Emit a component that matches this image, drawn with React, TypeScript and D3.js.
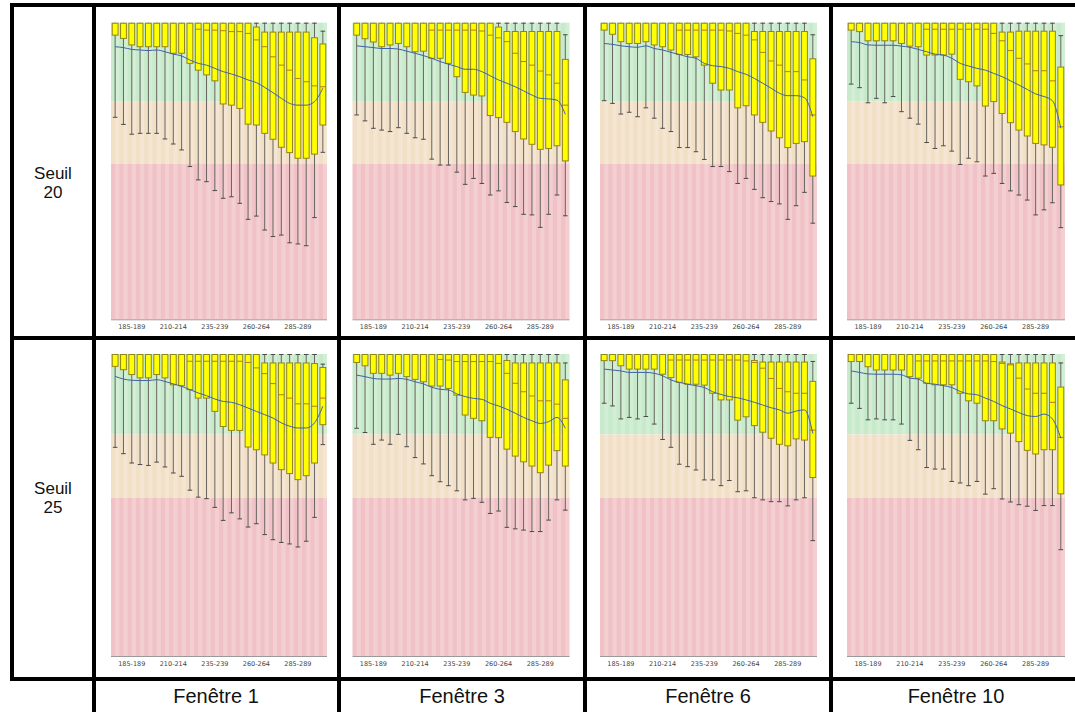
import * as d3 from 'd3';
import { useEffect, useRef } from 'react';

const categories = [
  '175-179', '180-184', '185-189', '190-194', '195-199', '200-204', '205-209',
  '210-214', '215-219', '220-224', '225-229', '230-234', '235-239', '240-244',
  '245-249', '250-254', '255-259', '260-264', '265-269', '270-274', '275-279',
  '280-284', '285-289', '290-294', '295-299', '300-304',
];
const tickLabels = ['185-189', '210-214', '235-239', '260-264', '285-289'];
const rowLabels = [['Seuil', '20'], ['Seuil', '25']];
const colLabels = ['Fenêtre 1', 'Fenêtre 3', 'Fenêtre 6', 'Fenêtre 10'];
// green above the first limit, beige between, red below
const zoneLimits = [73.4, 52.4];

// Seuil 20 / Fenêtre 1
const s20f1Q1 = [95.8, 94.7, 92.5, 91.9, 91.9, 91.9, 91.9, 89.7, 89.7, 86.3, 84.0, 82.4, 80.4, 72.6, 72.2, 71.1, 65.8, 65.5, 62.7, 60.7, 58.0, 56.2, 54.3, 54.3, 55.7, 65.5];
const s20f1Q3 = [100, 100, 100, 100, 100, 100, 100, 100, 100, 100, 100, 100, 100, 100, 100, 100, 100, 98.7, 97.0, 97.0, 97.0, 97.0, 97.0, 97.0, 95.1, 93.0];
const s20f1Med = [100, 100, 100, 100, 100, 100, 100, 100, 100, 100, 97.8, 97.5, 97.5, 97.3, 97.0, 97.0, 96.4, 94.2, 91.9, 88.5, 85.7, 84.0, 81.2, 80.1, 78.7, 78.4];
const s20f1Min = [68.1, 65.7, 62.4, 62.7, 62.7, 62.7, 60.8, 59.1, 57.1, 51.5, 47.0, 46.4, 43.4, 40.8, 41.3, 39.1, 33.7, 34.8, 30.1, 27.9, 28.4, 25.8, 25.4, 24.8, 34.3, 56.3];
const s20f1Max = [100, 100, 100, 100, 100, 100, 100, 100, 100, 100, 100, 100, 100, 100, 100, 100, 100, 100, 100, 100, 100, 100, 100, 100, 100, 97.3];
const s20f1Mean = [91.9, 91.6, 91.0, 90.8, 90.6, 90.8, 90.2, 89.4, 88.8, 87.4, 86.3, 85.7, 84.6, 83.5, 82.7, 81.8, 80.7, 79.8, 78.2, 76.4, 74.5, 72.8, 72.2, 72.2, 73.4, 77.9];

// Seuil 20 / Fenêtre 3
const s20f3Q1 = [95.8, 94.6, 93.5, 91.9, 92.5, 93.0, 91.9, 90.2, 90.4, 88.0, 88.0, 86.3, 81.8, 76.5, 75.6, 75.3, 68.7, 68.0, 66.4, 63.3, 60.8, 59.0, 57.3, 57.6, 58.5, 53.4];
const s20f3Q3 = [100, 100, 100, 100, 100, 100, 100, 100, 100, 100, 100, 100, 100, 100, 100, 100, 100, 98.7, 97.2, 97.2, 97.2, 97.2, 97.2, 97.2, 97.2, 87.8];
const s20f3Med = [100, 100, 100, 100, 100, 100, 100, 100, 100, 97.5, 97.5, 97.5, 97.5, 97.5, 97.5, 97.2, 95.8, 94.9, 93.6, 89.7, 86.9, 85.7, 83.7, 82.4, 79.6, 72.2];
const s20f3Min = [68.9, 66.9, 64.4, 63.8, 63.3, 64.6, 62.7, 61.2, 60.7, 54.0, 52.0, 52.0, 49.6, 45.5, 47.5, 45.8, 41.9, 43.3, 39.4, 38.0, 35.4, 35.2, 31.0, 35.4, 41.9, 34.9];
const s20f3Max = [100, 100, 100, 100, 100, 100, 100, 100, 100, 100, 100, 100, 100, 100, 100, 100, 100, 100, 100, 100, 100, 100, 100, 100, 100, 96.1];
const s20f3Mean = [92.2, 91.9, 91.6, 91.3, 91.3, 91.1, 90.4, 89.7, 88.9, 88.0, 86.9, 86.0, 85.2, 84.3, 84.3, 83.5, 82.1, 80.7, 79.6, 78.4, 77.0, 75.6, 74.5, 74.3, 73.9, 69.1];

// Seuil 20 / Fenêtre 6
const s20f6Q1 = [97.5, 96.1, 93.6, 93.0, 93.0, 93.6, 92.5, 91.9, 90.8, 89.3, 89.3, 88.5, 85.7, 79.6, 77.3, 77.3, 71.3, 72.0, 68.9, 66.4, 63.5, 61.2, 57.9, 59.3, 59.9, 48.3];
const s20f6Q3 = [100, 100, 100, 100, 100, 100, 100, 100, 100, 100, 100, 100, 100, 100, 100, 100, 100, 100, 97.2, 97.2, 97.2, 97.2, 97.2, 97.2, 97.2, 88.0];
const s20f6Med = [100, 100, 100, 100, 100, 100, 100, 100, 100, 97.5, 97.5, 97.5, 97.5, 97.5, 97.5, 97.2, 96.4, 95.8, 94.2, 90.0, 87.1, 85.7, 83.5, 83.5, 80.7, 68.9];
const s20f6Min = [73.7, 72.8, 69.2, 69.8, 68.3, 71.3, 67.8, 64.4, 63.3, 57.9, 57.9, 56.5, 53.9, 51.5, 51.5, 49.8, 45.8, 47.5, 43.8, 41.0, 39.7, 38.9, 33.7, 38.3, 42.8, 32.4];
const s20f6Max = [100, 100, 100, 100, 100, 100, 100, 100, 100, 100, 100, 100, 100, 100, 100, 100, 100, 100, 100, 100, 100, 100, 100, 100, 100, 96.1];
const s20f6Mean = [93.0, 92.7, 92.2, 91.9, 91.7, 92.2, 91.3, 90.8, 90.0, 89.3, 88.5, 88.0, 86.3, 85.5, 85.2, 84.6, 83.5, 82.6, 81.2, 79.6, 77.9, 76.2, 75.4, 75.4, 74.7, 68.3];

// Seuil 20 / Fenêtre 10
const s20f10Q1 = [97.5, 97.0, 93.9, 93.9, 93.9, 93.9, 93.0, 92.1, 91.9, 89.1, 89.1, 89.1, 89.4, 80.9, 80.1, 78.7, 71.9, 73.4, 69.4, 66.3, 63.8, 61.8, 59.3, 58.8, 58.0, 45.3];
const s20f10Q3 = [100, 100, 100, 100, 100, 100, 100, 100, 100, 100, 100, 100, 100, 100, 100, 100, 100, 100, 97.0, 97.0, 97.3, 97.3, 97.3, 97.3, 97.3, 85.2];
const s20f10Med = [100, 100, 100, 100, 100, 100, 100, 100, 100, 97.8, 97.8, 97.8, 97.8, 97.8, 97.8, 97.8, 97.8, 96.4, 93.9, 90.6, 88.0, 86.1, 83.8, 83.8, 80.4, 64.9];
const s20f10Min = [79.3, 78.1, 73.0, 74.5, 73.0, 75.1, 70.0, 67.8, 65.8, 59.6, 57.6, 58.5, 56.7, 52.2, 54.3, 53.1, 48.3, 49.2, 45.8, 43.3, 41.9, 40.2, 35.2, 36.9, 39.3, 30.9];
const s20f10Max = [100, 100, 100, 100, 100, 100, 100, 100, 100, 100, 100, 100, 100, 100, 100, 100, 100, 100, 100, 100, 100, 100, 100, 100, 100, 95.8];
const s20f10Mean = [93.6, 93.3, 92.5, 92.4, 92.4, 92.4, 92.1, 91.7, 91.0, 90.2, 89.4, 89.1, 88.0, 86.3, 85.4, 84.6, 84.0, 82.9, 81.8, 80.4, 79.0, 77.5, 76.0, 75.1, 73.7, 64.4];

// Seuil 25 / Fenêtre 1
const s25f1Q1 = [95.9, 94.8, 93.2, 92.1, 92.1, 93.2, 92.1, 89.8, 89.5, 88.2, 85.4, 85.4, 81.0, 76.0, 74.7, 74.7, 69.2, 68.3, 66.6, 63.9, 61.7, 60.4, 58.4, 59.7, 63.9, 76.6];
const s25f1Q3 = [100, 100, 100, 100, 100, 100, 100, 100, 100, 100, 100, 100, 100, 100, 100, 100, 100, 100, 97.2, 97.2, 97.2, 97.2, 97.2, 97.2, 97.0, 95.7];
const s25f1Med = [100, 100, 100, 100, 100, 100, 100, 100, 100, 97.6, 97.6, 97.6, 97.6, 97.6, 97.6, 97.6, 97.2, 95.4, 93.5, 90.2, 86.5, 85.4, 83.5, 83.5, 82.7, 85.4];
const s25f1Min = [69.1, 67.0, 63.9, 63.4, 63.1, 64.2, 62.6, 60.6, 59.5, 54.9, 52.6, 52.1, 49.2, 44.9, 47.4, 45.4, 42.7, 43.8, 40.2, 38.5, 37.6, 37.1, 36.1, 38.0, 45.9, 70.0];
const s25f1Max = [100, 100, 100, 100, 100, 100, 100, 100, 100, 100, 100, 100, 100, 100, 100, 100, 100, 100, 100, 100, 100, 100, 100, 100, 100, 96.8];
const s25f1Mean = [92.6, 91.7, 91.3, 91.2, 91.2, 91.5, 90.9, 90.1, 89.3, 88.2, 87.1, 86.2, 85.1, 84.3, 84.0, 83.2, 82.1, 81.0, 79.9, 78.8, 77.2, 76.1, 75.5, 75.5, 77.2, 82.7];

// Seuil 25 / Fenêtre 3
const s25f3Q1 = [97.2, 96.1, 93.6, 93.6, 93.0, 93.6, 92.5, 91.6, 90.8, 89.4, 89.4, 88.6, 86.4, 79.8, 78.7, 77.9, 72.4, 72.3, 68.5, 66.2, 64.3, 62.9, 60.7, 63.2, 68.0, 62.9];
const s25f3Q3 = [100, 100, 100, 100, 100, 100, 100, 100, 100, 100, 100, 100, 100, 100, 100, 100, 100, 100, 98.0, 97.2, 97.2, 97.2, 97.2, 97.2, 97.2, 91.6];
const s25f3Med = [100, 100, 100, 100, 100, 100, 100, 100, 100, 100, 98.2, 98.0, 97.5, 97.5, 97.5, 97.5, 97.5, 96.9, 93.6, 90.3, 87.5, 86.1, 84.5, 84.5, 83.4, 78.7];
const s25f3Min = [75.4, 74.0, 70.1, 71.5, 70.1, 73.4, 69.3, 65.7, 63.6, 59.7, 57.7, 56.4, 54.7, 51.7, 52.2, 50.9, 47.2, 48.0, 42.6, 42.1, 41.7, 41.2, 41.2, 45.0, 51.7, 48.3];
const s25f3Max = [100, 100, 100, 100, 100, 100, 100, 100, 100, 100, 100, 100, 100, 100, 100, 100, 100, 100, 100, 100, 100, 100, 100, 100, 100, 97.2];
const s25f3Mean = [93.0, 92.5, 91.9, 91.7, 91.7, 91.9, 91.6, 90.8, 90.1, 89.0, 88.3, 88.1, 86.8, 85.9, 85.3, 85.0, 83.7, 82.8, 81.7, 80.4, 79.0, 77.9, 77.0, 77.6, 79.0, 75.4];

// Seuil 25 / Fenêtre 6
const s25f6Q1 = [97.8, 97.8, 96.1, 95.0, 95.0, 95.0, 95.0, 93.3, 92.2, 90.6, 90.0, 90.0, 89.7, 87.0, 84.8, 84.8, 78.1, 79.2, 76.3, 74.1, 72.1, 70.1, 69.6, 71.9, 71.5, 59.1];
const s25f6Q3 = [100, 100, 100, 100, 100, 100, 100, 100, 100, 100, 100, 100, 100, 100, 100, 100, 100, 100, 98.0, 97.5, 97.5, 97.5, 97.5, 97.5, 97.5, 91.1];
const s25f6Med = [100, 100, 100, 100, 100, 100, 100, 100, 98.0, 98.0, 98.0, 98.0, 98.0, 98.0, 98.0, 98.0, 98.0, 97.7, 97.2, 95.3, 91.9, 88.6, 87.5, 87.0, 87.0, 74.8];
const s25f6Min = [83.7, 82.8, 78.5, 79.0, 78.5, 79.3, 76.8, 71.7, 69.1, 63.5, 62.7, 61.6, 58.3, 58.3, 56.4, 58.1, 54.4, 54.7, 52.4, 51.7, 51.1, 51.1, 49.7, 51.7, 52.4, 38.2];
const s25f6Max = [100, 100, 100, 100, 100, 100, 100, 100, 100, 100, 100, 100, 100, 100, 100, 100, 100, 100, 100, 100, 100, 100, 100, 100, 100, 97.7];
const s25f6Mean = [95.0, 94.7, 94.4, 93.9, 93.9, 93.9, 93.6, 92.8, 91.4, 90.6, 90.0, 89.5, 88.9, 87.5, 86.6, 85.9, 85.5, 84.8, 84.0, 83.1, 82.2, 81.5, 80.4, 81.1, 81.5, 73.7];

// Seuil 25 / Fenêtre 10
const s25f10Q1 = [97.5, 97.5, 95.8, 94.7, 94.7, 94.7, 94.7, 92.5, 92.0, 90.3, 89.8, 89.8, 89.8, 87.0, 84.5, 83.7, 77.9, 77.9, 75.2, 73.8, 71.0, 68.1, 66.9, 68.3, 68.3, 53.7];
const s25f10Q3 = [100, 100, 100, 100, 100, 100, 100, 100, 100, 100, 100, 100, 100, 100, 100, 100, 100, 100, 97.5, 96.9, 97.2, 97.2, 97.2, 97.2, 97.2, 89.2];
const s25f10Med = [100, 100, 100, 100, 100, 100, 100, 100, 97.7, 97.7, 97.7, 97.7, 97.7, 97.7, 97.7, 97.7, 97.7, 97.5, 96.9, 96.4, 92.0, 88.4, 87.0, 87.0, 84.0, 72.4];
const s25f10Min = [83.7, 82.0, 78.2, 78.5, 78.2, 78.2, 76.8, 71.4, 68.3, 62.4, 61.9, 61.9, 57.8, 57.3, 56.4, 57.8, 53.6, 55.4, 52.0, 51.0, 50.1, 49.6, 48.2, 49.8, 49.8, 35.2];
const s25f10Max = [100, 100, 100, 100, 100, 100, 100, 100, 100, 100, 100, 100, 100, 100, 100, 100, 100, 100, 100, 100, 100, 100, 100, 100, 100, 97.2];
const s25f10Mean = [94.4, 93.9, 93.4, 93.3, 93.3, 93.3, 93.1, 92.0, 91.7, 90.3, 90.0, 89.5, 88.9, 87.6, 86.8, 86.5, 85.4, 84.3, 82.9, 81.8, 80.6, 79.6, 79.3, 80.1, 78.5, 72.1];

const panels = [
  { row: 0, col: 0, q1: s20f1Q1, q3: s20f1Q3, med: s20f1Med, min: s20f1Min, max: s20f1Max, mean: s20f1Mean },
  { row: 0, col: 1, q1: s20f3Q1, q3: s20f3Q3, med: s20f3Med, min: s20f3Min, max: s20f3Max, mean: s20f3Mean },
  { row: 0, col: 2, q1: s20f6Q1, q3: s20f6Q3, med: s20f6Med, min: s20f6Min, max: s20f6Max, mean: s20f6Mean },
  { row: 0, col: 3, q1: s20f10Q1, q3: s20f10Q3, med: s20f10Med, min: s20f10Min, max: s20f10Max, mean: s20f10Mean },
  { row: 1, col: 0, q1: s25f1Q1, q3: s25f1Q3, med: s25f1Med, min: s25f1Min, max: s25f1Max, mean: s25f1Mean },
  { row: 1, col: 1, q1: s25f3Q1, q3: s25f3Q3, med: s25f3Med, min: s25f3Min, max: s25f3Max, mean: s25f3Mean },
  { row: 1, col: 2, q1: s25f6Q1, q3: s25f6Q3, med: s25f6Med, min: s25f6Min, max: s25f6Max, mean: s25f6Mean },
  { row: 1, col: 3, q1: s25f10Q1, q3: s25f10Q3, med: s25f10Med, min: s25f10Min, max: s25f10Max, mean: s25f10Mean },
];

const WIDTH = 1075;
const HEIGHT = 712;

export default function App() {
  const ref = useRef<SVGSVGElement>(null);

  useEffect(() => {
    drawChart();
  }, []);

  const drawChart = () => {
    const svg = d3.select(ref.current);
    svg.selectAll('*').remove();

    // plot areas of the small charts
    const colX = [[111, 327], [352.5, 569.5], [600, 817], [847, 1065]];
    const rowY = [[22.7, 319.3], [354, 656]];

    const zoneColors = ['#c6eaca', '#f1dfc6', '#f0c2c6'];

    panels.forEach((p) => {
      const [x0, x1] = colX[p.col];
      const [y0, y1] = rowY[p.row];
      const g = svg.append('g');

      const x = d3.scaleBand<string>().domain(categories).range([x0, x1]);
      const y = d3.scaleLinear().domain([0, 100]).range([y1, y0]);
      const bw = x.bandwidth();
      const cx = (i: number) => x(categories[i])! + bw / 2;

      const zones = [
        [100, zoneLimits[0]],
        [zoneLimits[0], zoneLimits[1]],
        [zoneLimits[1], 0],
      ];
      g.selectAll('.zone')
        .data(zones)
        .enter()
        .append('rect')
        .attr('x', x0)
        .attr('width', x1 - x0)
        .attr('y', (d) => y(d[0]))
        .attr('height', (d) => y(d[1]) - y(d[0]))
        .style('fill', (d, i) => zoneColors[i]);

      // faint vertical stripes
      g.selectAll('.stripe')
        .data(categories)
        .enter()
        .append('rect')
        .attr('x', (d) => x(d)! + bw * 0.5)
        .attr('width', bw * 0.5)
        .attr('y', y0)
        .attr('height', y1 - y0)
        .style('fill', '#ffffff')
        .style('opacity', 0.22);

      g.append('line')
        .attr('x1', x0)
        .attr('x2', x1)
        .attr('y1', y1 + 0.5)
        .attr('y2', y1 + 0.5)
        .style('stroke', '#9a9a9a');

      const idx = d3.range(categories.length);
      const boxW = bw * 0.7;
      const capW = bw * 0.55;

      // whiskers
      g.selectAll('.whisker')
        .data(idx)
        .enter()
        .append('line')
        .attr('x1', (i) => cx(i))
        .attr('x2', (i) => cx(i))
        .attr('y1', (i) => y(p.max[i]))
        .attr('y2', (i) => y(p.min[i]))
        .style('stroke', '#686460')
        .style('stroke-width', 1);

      g.selectAll('.capLo')
        .data(idx)
        .enter()
        .append('line')
        .attr('x1', (i) => cx(i) - capW / 2)
        .attr('x2', (i) => cx(i) + capW / 2)
        .attr('y1', (i) => y(p.min[i]))
        .attr('y2', (i) => y(p.min[i]))
        .style('stroke', '#4a4a4a')
        .style('stroke-width', 1);

      g.selectAll('.capHi')
        .data(idx.filter((i) => p.q3[i] < 100))
        .enter()
        .append('line')
        .attr('x1', (i) => cx(i) - capW / 2)
        .attr('x2', (i) => cx(i) + capW / 2)
        .attr('y1', (i) => y(p.max[i]) + 0.5)
        .attr('y2', (i) => y(p.max[i]) + 0.5)
        .style('stroke', '#4a4a4a')
        .style('stroke-width', 1);

      // boxes
      g.selectAll('.box')
        .data(idx)
        .enter()
        .append('rect')
        .attr('x', (i) => cx(i) - boxW / 2)
        .attr('width', boxW)
        .attr('y', (i) => y(p.q3[i]) + 0.5)
        .attr('height', (i) => Math.max(0, y(p.q1[i]) - y(p.q3[i]) - 0.5))
        .style('fill', '#ffff00')
        .style('stroke', '#938512')
        .style('stroke-width', 1);

      g.selectAll('.median')
        .data(idx.filter((i) => p.med[i] < 100))
        .enter()
        .append('line')
        .attr('x1', (i) => cx(i) - boxW / 2)
        .attr('x2', (i) => cx(i) + boxW / 2)
        .attr('y1', (i) => y(p.med[i]))
        .attr('y2', (i) => y(p.med[i]))
        .style('stroke', '#b87a10')
        .style('stroke-width', 1);

      // mean line
      const line = d3
        .line<number>()
        .x((d, i) => cx(i))
        .y((d) => y(d))
        .curve(d3.curveMonotoneX);
      g.append('path')
        .datum(p.mean)
        .attr('d', line)
        .style('fill', 'none')
        .style('stroke', '#3e62a6')
        .style('stroke-width', 1);

      g.selectAll('.tick')
        .data(tickLabels)
        .enter()
        .append('text')
        .attr('x', (d) => x(d)! + bw / 2)
        .attr('y', y1 + 10)
        .style('text-anchor', 'middle')
        .style('font-size', '6.5px')
        .style('font-family', 'DejaVu Sans, sans-serif')
        .style('fill', '#444')
        .text((d) => d);
    });

    // table grid
    const grid = svg.append('g').style('stroke', '#000').style('stroke-width', 4);
    const hLines = [
      [12, 5, WIDTH, 5],
      [12, 338, WIDTH, 338],
      [12, 679, WIDTH, 679],
    ];
    const vLines = [
      [12, 3, 12, 681],
      [94, 3, 94, HEIGHT],
      [339, 3, 339, HEIGHT],
      [585, 3, 585, HEIGHT],
      [831, 3, 831, HEIGHT],
    ];
    [...hLines, ...vLines].forEach((l) => {
      grid
        .append('line')
        .attr('x1', l[0])
        .attr('y1', l[1])
        .attr('x2', l[2])
        .attr('y2', l[3]);
    });

    const rowTextY = [179, 494];
    rowLabels.forEach((lines, r) => {
      lines.forEach((t, k) => {
        svg
          .append('text')
          .attr('x', 53)
          .attr('y', rowTextY[r] + k * 19)
          .style('text-anchor', 'middle')
          .style('font-size', '17px')
          .style('font-family', 'Liberation Sans, Arial, sans-serif')
          .style('fill', '#111')
          .text(t);
      });
    });

    const colTextX = [216, 462, 708, 956];
    colLabels.forEach((t, c) => {
      svg
        .append('text')
        .attr('x', colTextX[c])
        .attr('y', 703)
        .style('text-anchor', 'middle')
        .style('font-size', '20px')
        .style('font-family', 'Liberation Sans, Arial, sans-serif')
        .style('fill', '#111')
        .text(t);
    });
  };

  return (
    <svg
      ref={ref}
      width={WIDTH}
      height={HEIGHT}
      style={{ position: 'absolute', left: 0, top: 0, background: '#fff' }}
    />
  );
}
